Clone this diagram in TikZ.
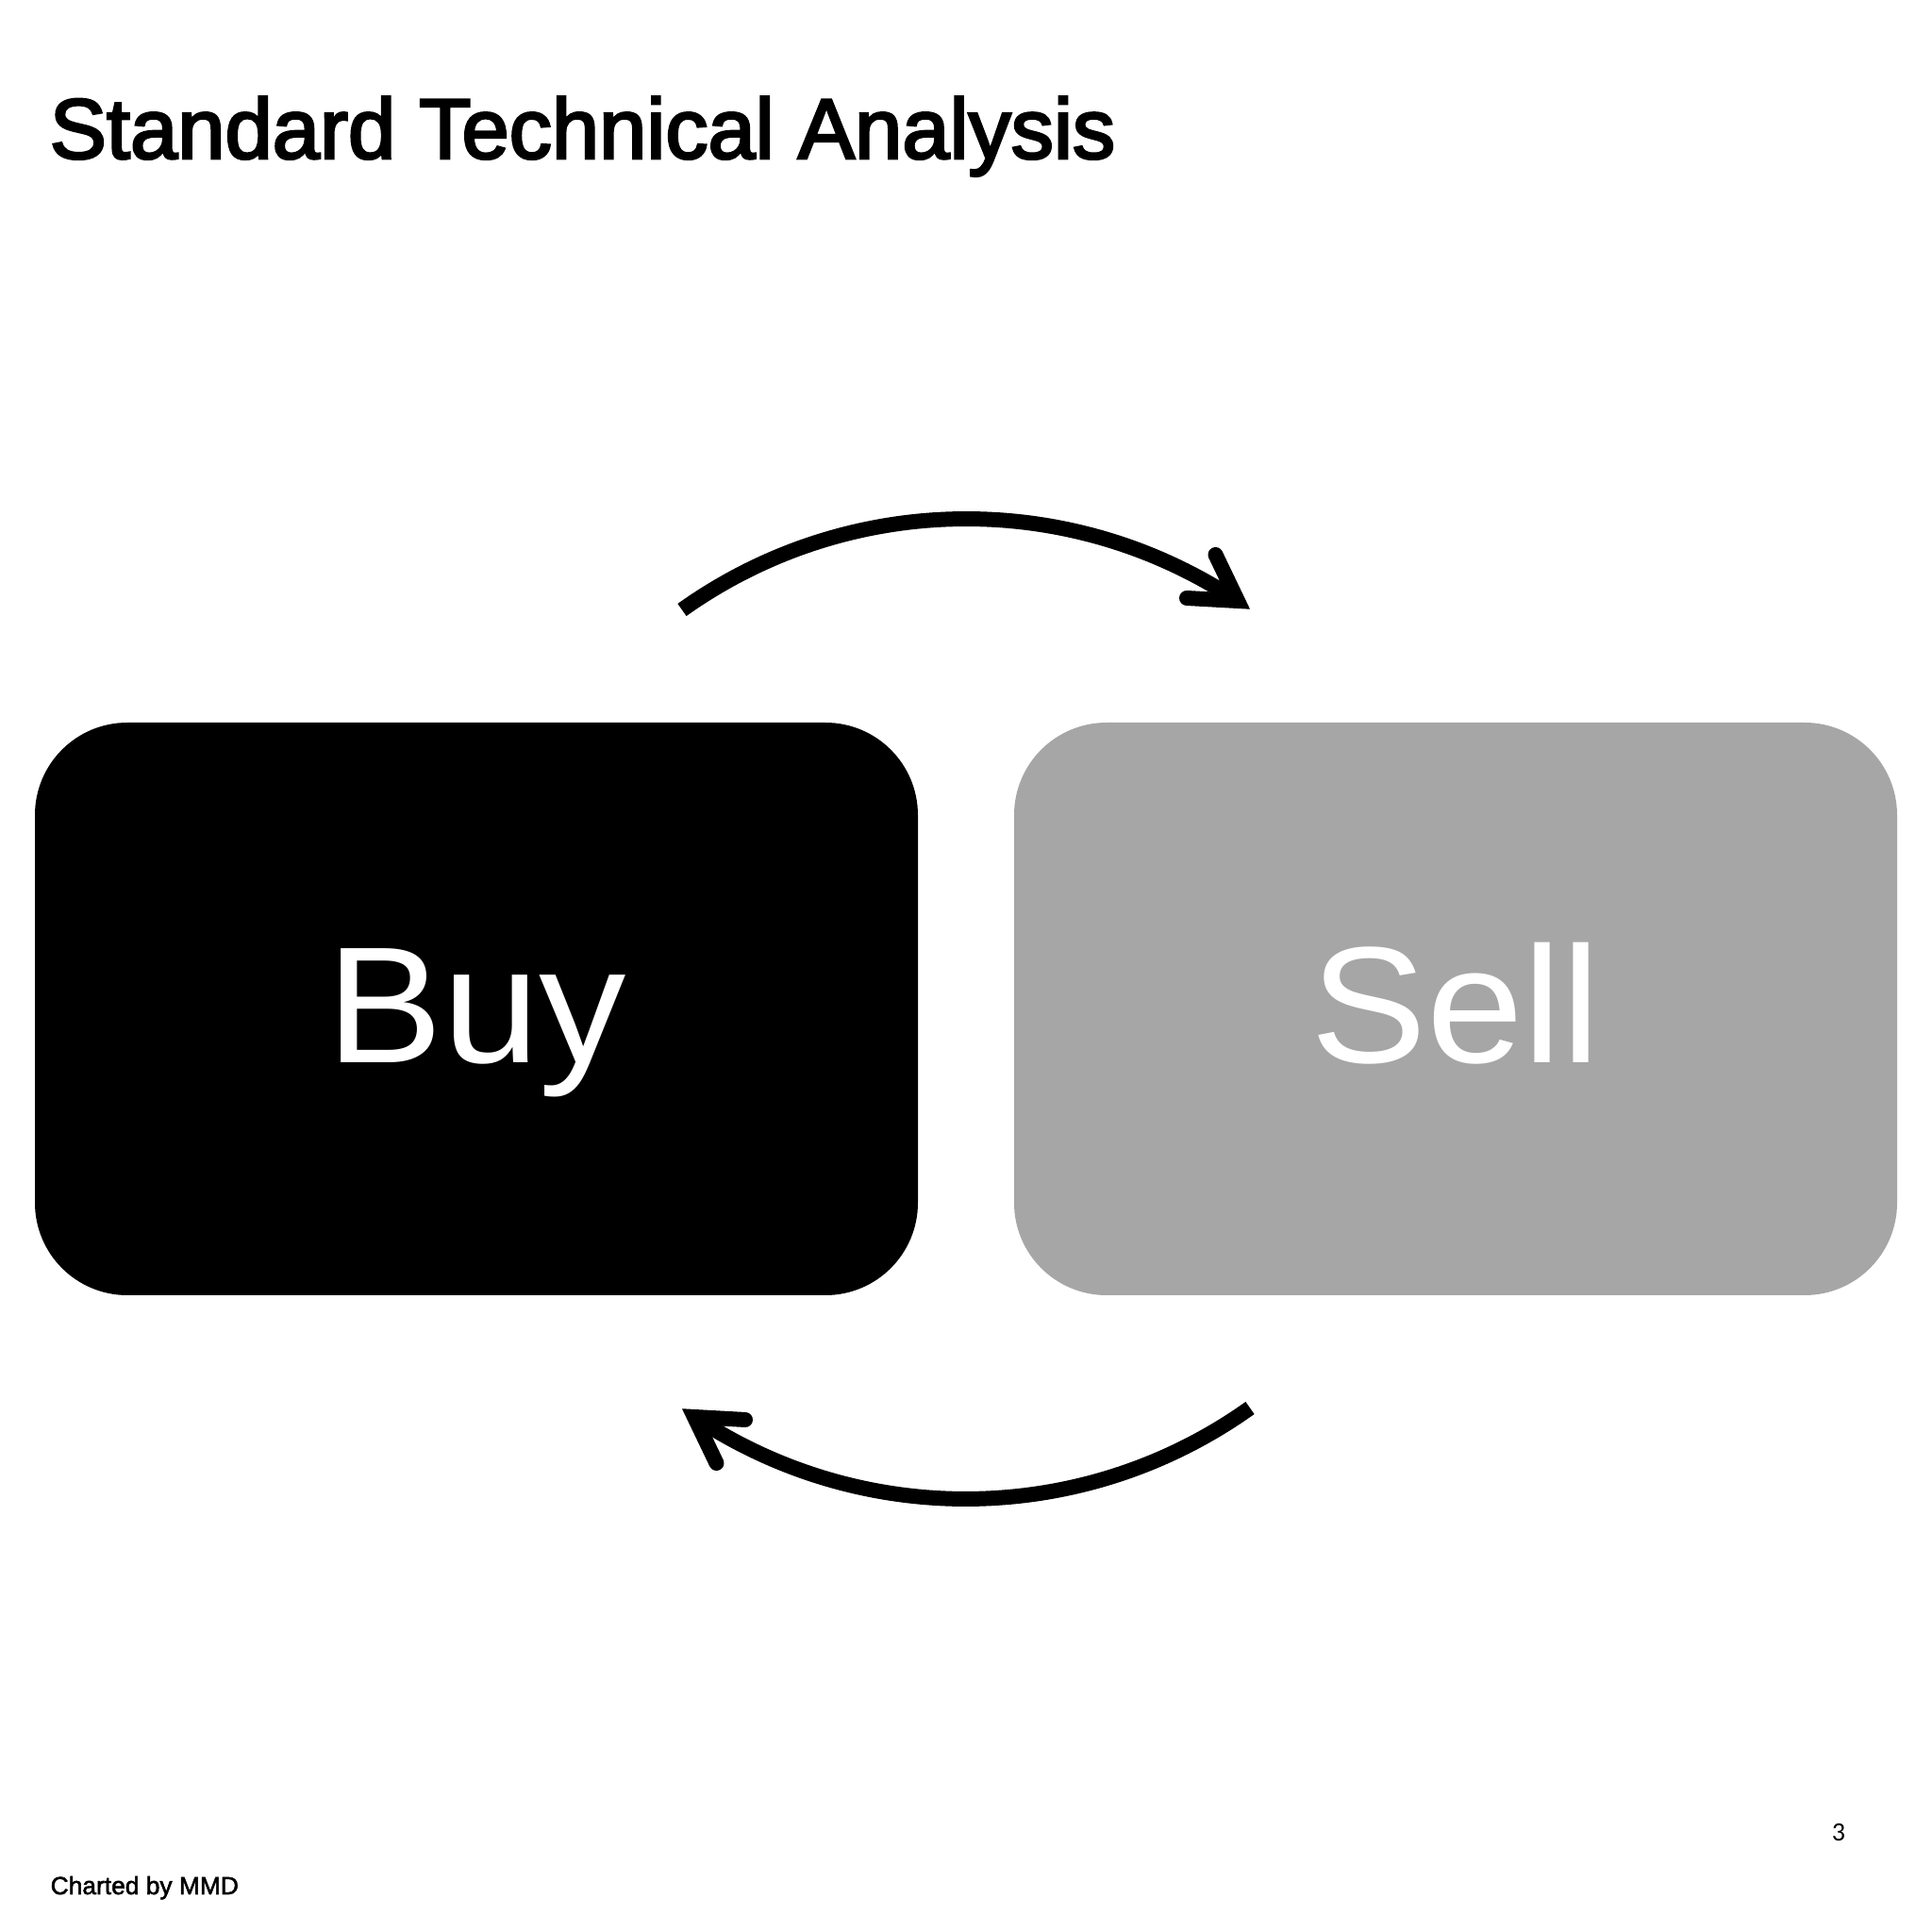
\documentclass[tikz,border=0pt]{standalone}
\usepackage{fontspec}
\setmainfont{Liberation Sans}
\newfontfamily\titlefont[FakeBold=3]{Liberation Sans}
\newfontfamily\creditfont[FakeBold=2]{Liberation Sans}
\newfontfamily\boxfont[FakeStretch=1.05]{Liberation Sans}
\newfontfamily\pagefont{Carlito}
\usepackage{xcolor}
\usetikzlibrary{arrows.meta}
\definecolor{sellgrey}{HTML}{A6A6A6}

\tikzset{
    cyclebox/.style={rounded corners=0.98cm, minimum width=9.36cm, minimum height=6.07cm, inner sep=0pt,
        text=white, text height=1.15cm, text depth=0cm, font=\boxfont\fontsize{50}{60}\selectfont},
    cyclearc/.style={line width=0.16cm},
    cyclehead/.style={line width=0.16cm, line cap=round, line join=miter, miter limit=10}
}

\begin{document}
\begin{tikzpicture}
    \useasboundingbox (0,0) rectangle (20.48,20.48);
    \fill[white] (0,0) rectangle (20.48,20.48);

    % Titre
    \node[anchor=base west, inner sep=0pt, font=\titlefont\fontsize{25.7}{31}\selectfont] (title) at (0.52,18.80) {Standard Technical Analysis};

    % Les deux blocs
    \node[cyclebox, fill=black] (buy) at (5.05,9.785) {Buy};
    \node[cyclebox, fill=sellgrey] (sell) at (15.43,9.785) {Sell};

    % Flèche du haut
    \coordinate (topstart) at (7.23,14.015);
    \coordinate (toptip) at (13.12,14.11);
    \coordinate (topbarba) at (12.885,14.60);
    \coordinate (topbarbb) at (12.58,14.14);
    \draw[cyclearc] (topstart) arc[start angle=125.5, end angle=56.3, radius=5.19];
    \draw[cyclehead] (topbarba) -- (toptip) -- (topbarbb);

    % Flèche du bas (même arc, tourné d'un demi-tour)
    \coordinate (botstart) at (13.25,5.555);
    \coordinate (bottip) at (7.36,5.46);
    \coordinate (botbarba) at (7.595,4.97);
    \coordinate (botbarbb) at (7.90,5.43);
    \draw[cyclearc] (botstart) arc[start angle=305.5, end angle=236.3, radius=5.19];
    \draw[cyclehead] (botbarba) -- (bottip) -- (botbarbb);

    % Bas de page
    \node[anchor=base west, inner sep=0pt, font=\creditfont\fontsize{7.5}{9}\selectfont] (credit) at (0.53,0.40) {Charted by MMD};
    \node[anchor=base, inner sep=0pt, font=\pagefont\fontsize{8}{10}\selectfont] (pagenum) at (19.49,0.97) {3};
\end{tikzpicture}
\end{document}
